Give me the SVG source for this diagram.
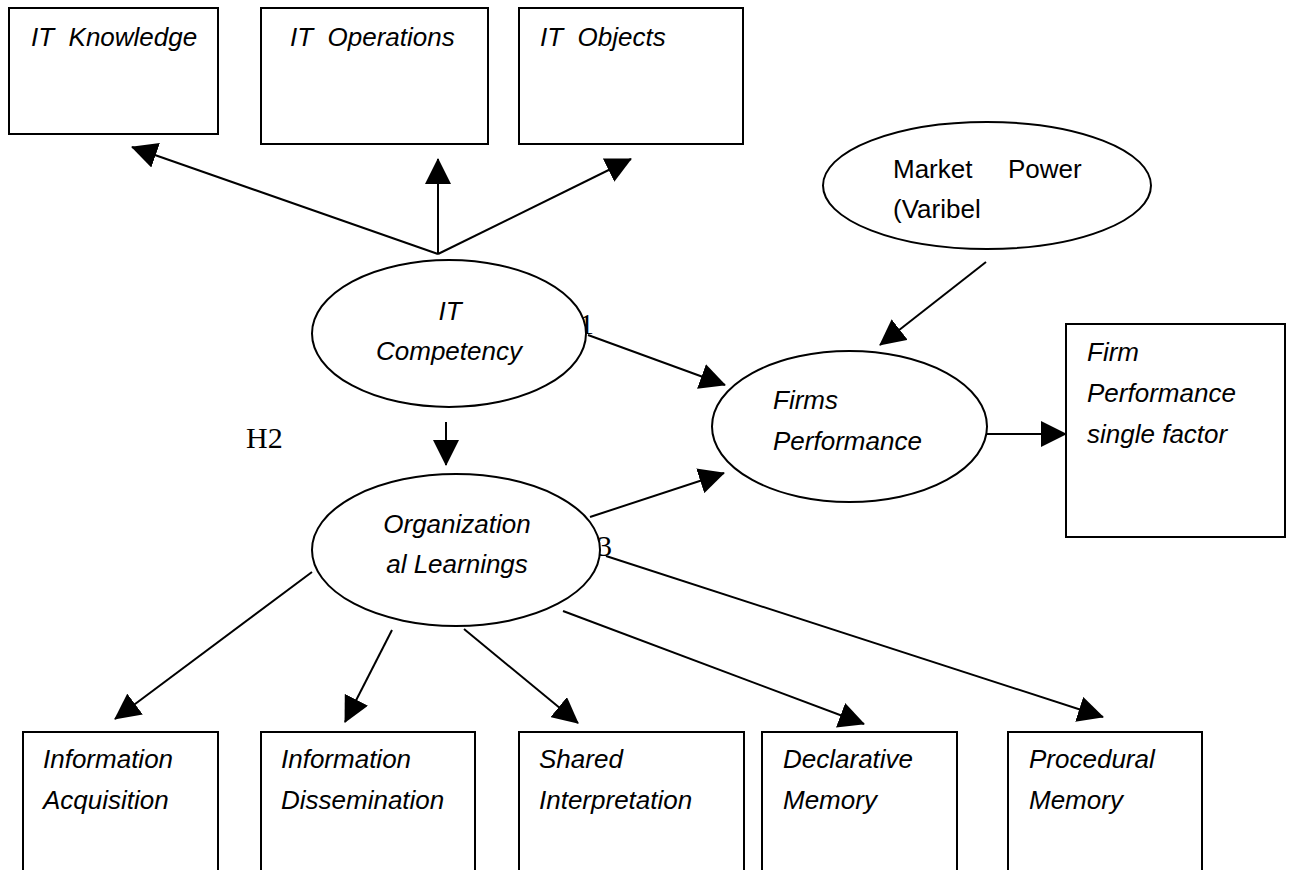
<svg xmlns="http://www.w3.org/2000/svg" width="1290" height="870" viewBox="0 0 1290 870">
  <style>
    .box { fill: #ffffff; stroke: #000000; stroke-width: 2; }
    .ell { fill: #ffffff; stroke: #000000; stroke-width: 2; }
    .it { font-family: "Liberation Sans", Arial, sans-serif; font-style: italic; font-size: 26px; fill: #000000; }
    .rg { font-family: "Liberation Sans", Arial, sans-serif; font-size: 26px; fill: #000000; }
    .hl { font-family: "Liberation Serif", "Times New Roman", serif; font-size: 30px; fill: #000000; }
    .mid { text-anchor: middle; }
    .conn line { stroke: #000000; stroke-width: 2; fill: none; marker-end: url(#arrow); }
  </style>
  <defs>
    <marker id="arrow" markerUnits="userSpaceOnUse" viewBox="0 0 26 26" markerWidth="26" markerHeight="26" refX="25" refY="13" orient="auto">
      <path d="M0,0 L26,13 L0,26 Z" fill="#000000"/>
    </marker>
  </defs>
  <rect x="0" y="0" width="1290" height="870" fill="#ffffff"/>

  <g id="labels">
    <text class="hl" x="246" y="448">H2</text>
    <text class="hl" x="579" y="334">1</text>
    <text class="hl" x="597" y="556">3</text>
  </g>

  <g id="connectors" class="conn">
    <line x1="438" y1="254" x2="132" y2="147"/>
    <line x1="438" y1="254" x2="438" y2="159"/>
    <line x1="438" y1="254" x2="631" y2="159"/>
    <line x1="588" y1="335" x2="725" y2="385"/>
    <line x1="446" y1="422" x2="446" y2="465"/>
    <line x1="590" y1="517" x2="724" y2="473"/>
    <line x1="986" y1="262" x2="880" y2="345"/>
    <line x1="987" y1="434" x2="1066" y2="434"/>
    <line x1="312" y1="572" x2="115" y2="719"/>
    <line x1="392" y1="630" x2="345" y2="722"/>
    <line x1="464" y1="629" x2="578" y2="723"/>
    <line x1="563" y1="611" x2="864" y2="724"/>
    <line x1="606" y1="556" x2="1103" y2="717"/>
  </g>

  <g id="it-knowledge">
    <rect class="box" x="9" y="8" width="209" height="126"/>
    <text class="it" x="31" y="46" xml:space="preserve">IT  Knowledge</text>
  </g>
  <g id="it-operations">
    <rect class="box" x="261" y="8" width="227" height="136"/>
    <text class="it" x="290" y="46" xml:space="preserve">IT  Operations</text>
  </g>
  <g id="it-objects">
    <rect class="box" x="519" y="8" width="224" height="136"/>
    <text class="it" x="540" y="46" xml:space="preserve">IT  Objects</text>
  </g>

  <g id="market-power">
    <ellipse class="ell" cx="987" cy="185.5" rx="164" ry="63.5"/>
    <text class="rg" y="178"><tspan x="893">Market </tspan><tspan x="1008">Power</tspan></text>
    <text class="rg" x="893" y="218">(Varibel</text>
  </g>

  <g id="it-competency">
    <ellipse class="ell" cx="449" cy="333.5" rx="137" ry="73.5"/>
    <text class="it mid" x="450" y="320">IT</text>
    <text class="it mid" x="449" y="360">Competency</text>
  </g>

  <g id="firms-performance">
    <ellipse class="ell" cx="849.5" cy="426.5" rx="137.5" ry="75.5"/>
    <text class="it" x="773" y="409">Firms</text>
    <text class="it" x="773" y="450">Performance</text>
  </g>

  <g id="firm-performance-single">
    <rect class="box" x="1066" y="324" width="219" height="213"/>
    <text class="it" x="1087" y="361">Firm</text>
    <text class="it" x="1087" y="402">Performance</text>
    <text class="it" x="1087" y="443">single factor</text>
  </g>

  <g id="org-learnings">
    <ellipse class="ell" cx="456" cy="550" rx="144" ry="76"/>
    <text class="it mid" x="457" y="533">Organization</text>
    <text class="it mid" x="457" y="573">al Learnings</text>
  </g>

  <g id="info-acquisition">
    <rect class="box" x="23" y="732" width="195" height="150"/>
    <text class="it" x="43" y="768">Information</text>
    <text class="it" x="43" y="809">Acquisition</text>
  </g>
  <g id="info-dissemination">
    <rect class="box" x="261" y="732" width="214" height="150"/>
    <text class="it" x="281" y="768">Information</text>
    <text class="it" x="281" y="809">Dissemination</text>
  </g>
  <g id="shared-interpretation">
    <rect class="box" x="519" y="732" width="225" height="150"/>
    <text class="it" x="539" y="768">Shared</text>
    <text class="it" x="539" y="809">Interpretation</text>
  </g>
  <g id="declarative-memory">
    <rect class="box" x="762" y="732" width="195" height="150"/>
    <text class="it" x="783" y="768">Declarative</text>
    <text class="it" x="783" y="809">Memory</text>
  </g>
  <g id="procedural-memory">
    <rect class="box" x="1008" y="732" width="194" height="150"/>
    <text class="it" x="1029" y="768">Procedural</text>
    <text class="it" x="1029" y="809">Memory</text>
  </g>
</svg>
